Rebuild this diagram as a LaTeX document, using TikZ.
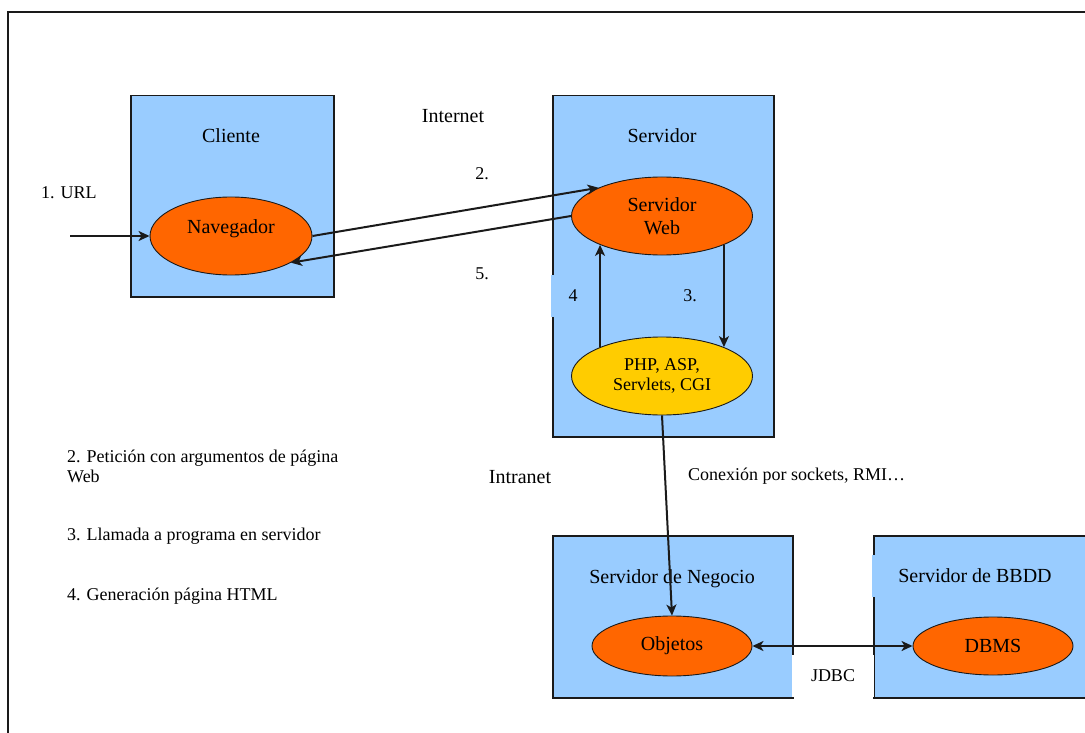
\documentclass[tikz,border=0pt]{standalone}
\usepackage{fontspec}
\setmainfont{Liberation Serif}
\newfontfamily\diagfont{Liberation Serif}
\usetikzlibrary{arrows.meta,shapes.geometric}
\definecolor{boxblue}{HTML}{99CCFF}
\definecolor{nodeorange}{HTML}{FF6600}
\definecolor{nodeyellow}{HTML}{FFCC00}
\definecolor{ink}{HTML}{1A1A1A}
\begin{document}
\begin{tikzpicture}[x=1pt,y=-1pt,
  tier/.style={draw=ink, line width=1.5pt, fill=boxblue, inner sep=0pt, anchor=north west},
  oval/.style={ellipse, draw=ink, line width=0.9pt, fill=nodeorange, inner sep=0pt, align=center, font=\diagfont\fontsize{20}{23}\selectfont},
  big/.style={font=\diagfont\fontsize{20}{23}\selectfont, inner sep=0pt},
  small/.style={font=\diagfont\fontsize{18}{20}\selectfont, inner sep=0pt},
  arr/.style={draw=ink, line width=2pt, -{Stealth[length=11pt,width=10pt,inset=3pt]}},
  dblarr/.style={draw=ink, line width=2pt, {Stealth[length=11pt,width=10pt,inset=3pt]}-{Stealth[length=11pt,width=10pt,inset=3pt]}},
]
\useasboundingbox (0,0) rectangle (1085,733);
\clip (0,0) rectangle (1085,733);
\fill[white] (0,0) rectangle (1085,733);
% outer frame
\draw[ink, line width=1.6pt] (8,12) rectangle (1200,800);

% tier boxes
\node[tier, minimum width=203pt, minimum height=201pt] (cliB) at (130,95) {};
\node[tier, minimum width=221pt, minimum height=341pt] (srvB) at (552,95) {};
\node[tier, minimum width=240pt, minimum height=162pt] (negB) at (552,535) {};
\node[tier, minimum width=250pt, minimum height=162pt] (bdB) at (873,535) {};

% box titles
\node[big, anchor=base] (tCli) at (231,143) {Cliente};
\node[big, anchor=base] (tSrv) at (662,143) {Servidor};
\node[big, anchor=base] (tNeg) at (672,583) {Servidor de Negocio};
\node[big, fill=boxblue, minimum width=206pt, minimum height=42pt] (tBD) at (975,576) {Servidor de BBDD};

% ellipses
\node[oval, minimum width=162pt, minimum height=78pt] (nav) at (231,236) {\raisebox{7.5pt}[\height][\depth]{Navegador}};
\node[oval, minimum width=181pt, minimum height=78pt] (sw) at (662,216) {Servidor\\Web};
\node[oval, fill=nodeyellow, minimum width=181pt, minimum height=78pt, font=\diagfont\fontsize{18}{20}\selectfont] (php) at (662,376) {PHP, ASP,\\Servlets, CGI};
\node[oval, minimum width=160pt, minimum height=60pt] (obj) at (672,646) {Objetos};
\node[oval, minimum width=160pt, minimum height=58pt] (db) at (993,646) {DBMS};

% labels
\node[small, anchor=base] (lURL) at (69,199) {1. URL};
\node[big, anchor=base] (lInternet) at (453,123) {Internet};
\node[big, anchor=base] (lIntranet) at (520,483) {Intranet};
\node[small, anchor=base] (l2) at (482,180) {2.};
\node[small, anchor=base] (l5) at (482,279) {5.};
\node[small, fill=boxblue, minimum width=44pt, minimum height=42pt] (l4) at (573,296) {4};
\node[small, anchor=base] (l3) at (690,301) {3.};
\node[small, anchor=base west] (lConn) at (688,480) {Conexión por sockets, RMI…};
\node[small, fill=white, minimum width=82pt, minimum height=42pt] (lJDBC) at (833,676) {JDBC};

% legend
\node[small, anchor=north west, align=left] (leg2) at (67,450) {2. Petición con argumentos de página\\Web};
\node[small, anchor=base west] (leg3) at (67,540) {3. Llamada a programa en servidor};
\node[small, anchor=base west] (leg4) at (67,600) {4. Generación página HTML};

% connectors
\coordinate (urlStart) at (70,236);
\draw[arr] (urlStart) -- (nav.west);
\draw[arr] (nav.east) -- (sw.156);
\draw[arr] (sw.west) -- (nav.336);
\draw[arr] (php.155) -- (php.155 |- sw.205);
\draw[arr] (sw.335) -- (sw.335 |- php.25);
\draw[arr] (php.south) -- (obj.north);
\draw[dblarr] (obj.east) -- (db.west);
\end{tikzpicture}
\end{document}
